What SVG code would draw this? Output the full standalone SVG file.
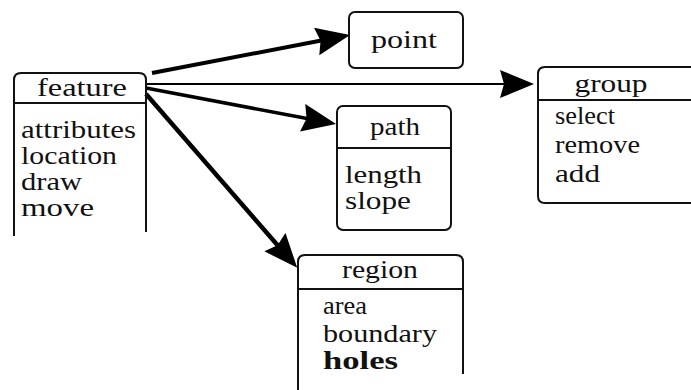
<svg xmlns="http://www.w3.org/2000/svg" width="691" height="390" viewBox="0 0 691 390" font-family="Liberation Serif, DejaVu Serif, serif">
  <style>
    text { font-size: 25px; fill: #111; }
    .title { text-anchor: middle; }
    .box { fill: none; stroke: #111; stroke-width: 2; }
    .div { stroke: #111; stroke-width: 2; }
    .link { stroke: #000; fill: none; }
  </style>
  <defs>
    <marker id="head" markerUnits="userSpaceOnUse" markerWidth="36" markerHeight="30" refX="14" refY="14" orient="auto">
      <path d="M0,0 L34,14 L0,28 L4,14 Z" fill="#000"/>
    </marker>
  </defs>

  <g id="connectors">
    <line class="link" x1="152" y1="73" x2="330.4" y2="38.8" stroke-width="4" marker-end="url(#head)"/>
    <line class="link" x1="146" y1="84" x2="514" y2="84" stroke-width="2" marker-end="url(#head)"/>
    <line class="link" x1="146" y1="88" x2="316.4" y2="120.3" stroke-width="3.5" marker-end="url(#head)"/>
    <line class="link" x1="146" y1="94" x2="284.1" y2="252.7" stroke-width="4.5" marker-end="url(#head)"/>
  </g>

  <g id="feature">
    <path class="box" d="M14,236 V80 Q14,73 21,73 H139 Q146,73 146,80 V232"/>
    <line class="div" x1="14" y1="103" x2="146" y2="103"/>
    <text class="title" x="82" y="96" textLength="90" lengthAdjust="spacingAndGlyphs">feature</text>
    <text x="21" y="138" textLength="115" lengthAdjust="spacingAndGlyphs">attributes</text>
    <text x="21" y="164" textLength="96" lengthAdjust="spacingAndGlyphs">location</text>
    <text x="21" y="190" textLength="61" lengthAdjust="spacingAndGlyphs">draw</text>
    <text x="21" y="216" textLength="73" lengthAdjust="spacingAndGlyphs">move</text>
  </g>

  <g id="point">
    <rect class="box" x="349" y="12" width="114" height="56" rx="6"/>
    <text class="title" x="404" y="48" textLength="66" lengthAdjust="spacingAndGlyphs">point</text>
  </g>

  <g id="path">
    <rect class="box" x="337" y="106" width="114" height="124" rx="6"/>
    <line class="div" x1="337" y1="148" x2="451" y2="148"/>
    <text class="title" x="395" y="135" textLength="50" lengthAdjust="spacingAndGlyphs">path</text>
    <text x="345" y="183" textLength="77" lengthAdjust="spacingAndGlyphs">length</text>
    <text x="345" y="209" textLength="66" lengthAdjust="spacingAndGlyphs">slope</text>
  </g>

  <g id="group">
    <path class="box" d="M700,67 H545 Q538,67 538,74 V196 Q538,203 545,203 H700"/>
    <line class="div" x1="538" y1="100" x2="691" y2="100"/>
    <text class="title" x="611" y="92" textLength="73" lengthAdjust="spacingAndGlyphs">group</text>
    <text x="555" y="124" textLength="60" lengthAdjust="spacingAndGlyphs">select</text>
    <text x="555" y="153" textLength="85" lengthAdjust="spacingAndGlyphs">remove</text>
    <text x="555" y="182" textLength="45" lengthAdjust="spacingAndGlyphs">add</text>
  </g>

  <g id="region">
    <path class="box" d="M298,392 V262 Q298,255 305,255 H456 Q463,255 463,262 V374"/>
    <line class="div" x1="298" y1="289" x2="463" y2="289"/>
    <text class="title" x="380" y="278" textLength="76" lengthAdjust="spacingAndGlyphs">region</text>
    <text x="323" y="314" textLength="44" lengthAdjust="spacingAndGlyphs">area</text>
    <text x="323" y="342" textLength="114" lengthAdjust="spacingAndGlyphs">boundary</text>
    <text x="323" y="369" font-weight="bold" textLength="75" lengthAdjust="spacingAndGlyphs">holes</text>
  </g>
</svg>
